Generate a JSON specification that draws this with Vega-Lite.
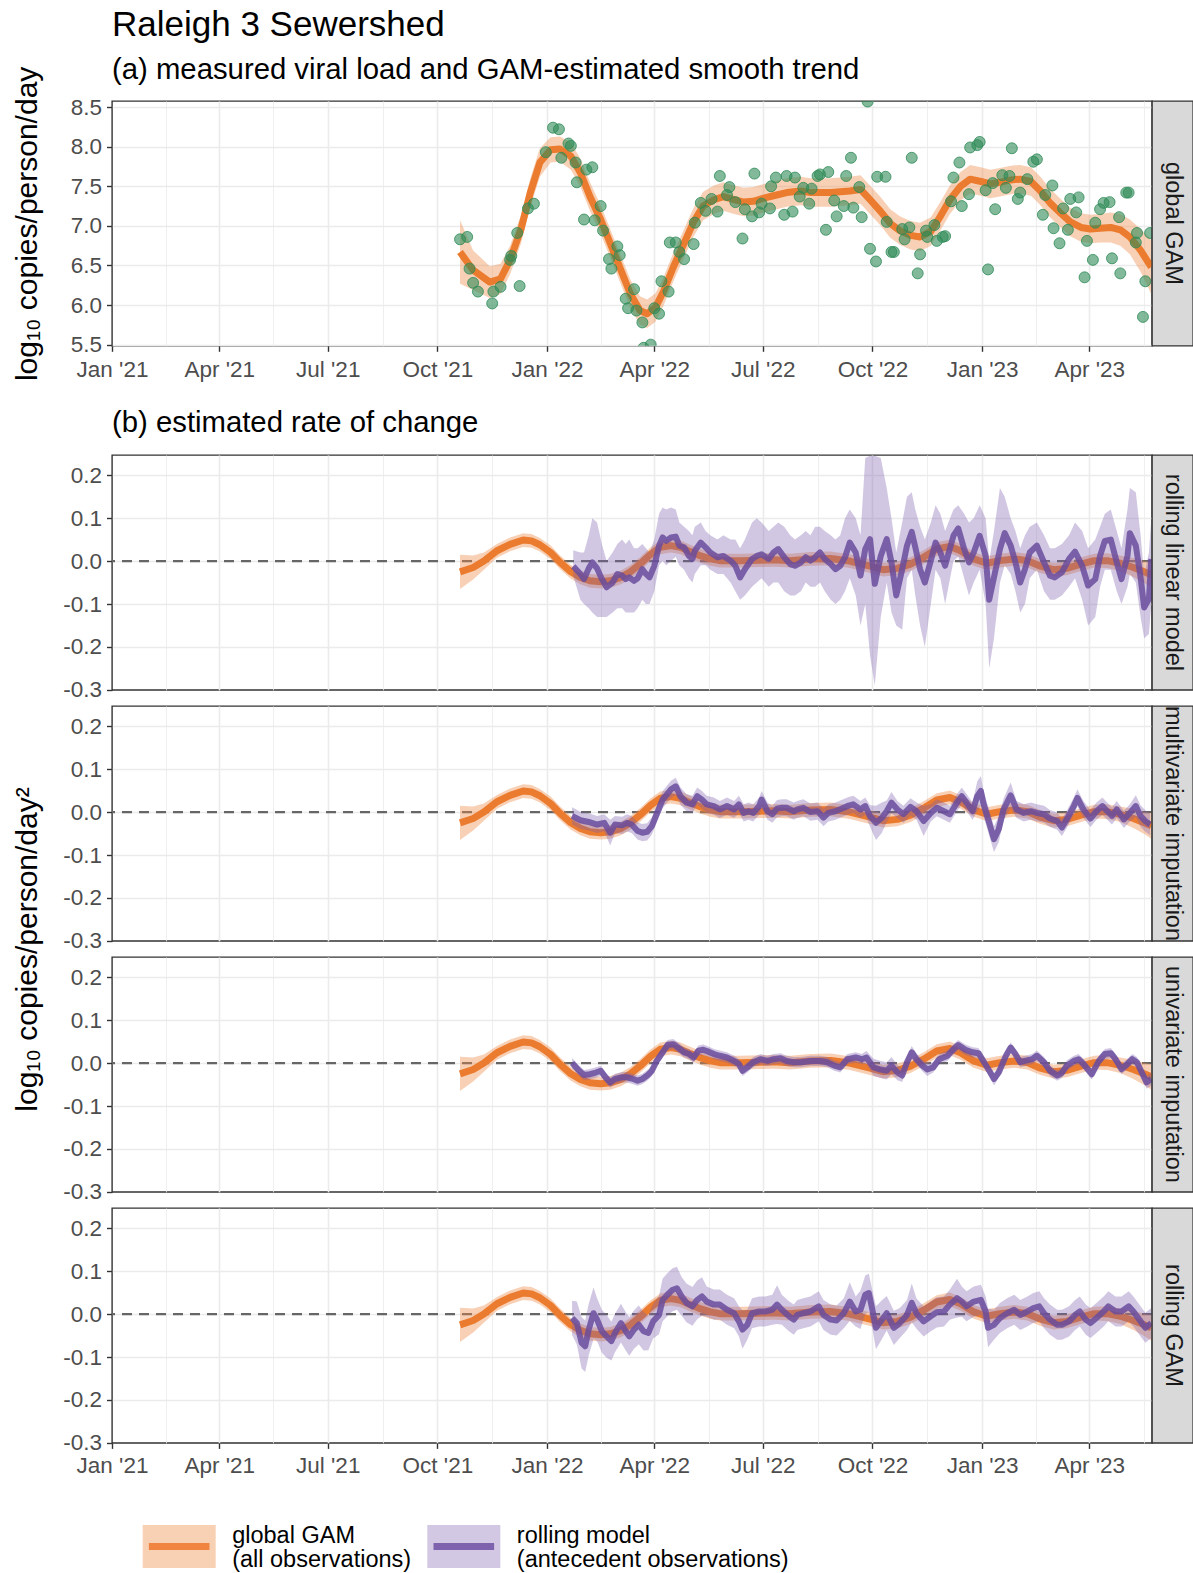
{
  "$schema": "https://vega.github.io/schema/vega-lite/v6.json",
  "background": "white",
  "padding": {"left": 11, "top": 8, "right": 0, "bottom": 5},
  "autosize": {"type": "pad"},
  "title": {"text": "Raleigh 3 Sewershed", "anchor": "start", "frame": "group", "fontSize": 35, "offset": 12},
  "config": {
    "font": "Liberation Sans",
    "title": {"font": "Liberation Sans", "fontWeight": "normal", "color": "#000000"},
    "view": {"stroke": "#333333", "strokeWidth": 1.4},
    "axis": {
      "labelFont": "Liberation Sans", "labelFontSize": 22.5, "labelColor": "#4D4D4D",
      "titleFont": "Liberation Sans", "titleFontSize": 30, "titleFontWeight": "normal", "titleColor": "#000000",
      "gridColor": "#EBEBEB", "tickColor": "#333333", "tickWidth": 1.4, "tickSize": 5.5,
      "domain": false, "labelPadding": 6.5, "labelOverlap": false, "labelFlush": false
    },
    "axisY": {"minExtent": 45, "maxExtent": 45, "titlePadding": 25, "labelPadding": 5}
  },
  "datasets": {
    "pts": [
      {"t":"2021-10-20","v":6.83},{"t":"2021-10-26","v":6.86},{"t":"2021-10-28","v":6.46},{"t":"2021-10-31","v":6.28},
      {"t":"2021-11-04","v":6.17},{"t":"2021-11-16","v":6.02},{"t":"2021-11-17","v":6.17},{"t":"2021-11-23","v":6.23},
      {"t":"2021-12-01","v":6.57},{"t":"2021-12-02","v":6.62},{"t":"2021-12-07","v":6.91},{"t":"2021-12-09","v":6.24},
      {"t":"2021-12-16","v":7.22},{"t":"2021-12-21","v":7.28},{"t":"2021-12-31","v":7.93},{"t":"2022-01-06","v":8.24},
      {"t":"2022-01-11","v":8.22},{"t":"2022-01-13","v":7.86},{"t":"2022-01-19","v":8.04},{"t":"2022-01-21","v":8.01},
      {"t":"2022-01-25","v":7.80},{"t":"2022-01-26","v":7.55},{"t":"2022-02-01","v":7.08},{"t":"2022-02-03","v":7.71},
      {"t":"2022-02-08","v":7.74},{"t":"2022-02-10","v":7.07},{"t":"2022-02-15","v":7.25},{"t":"2022-02-17","v":6.94},
      {"t":"2022-02-22","v":6.58},{"t":"2022-02-24","v":6.46},{"t":"2022-03-01","v":6.74},{"t":"2022-03-03","v":6.63},
      {"t":"2022-03-08","v":6.08},{"t":"2022-03-10","v":5.96},{"t":"2022-03-15","v":6.20},{"t":"2022-03-17","v":5.93},
      {"t":"2022-03-22","v":5.78},{"t":"2022-03-23","v":5.46},{"t":"2022-03-29","v":5.50},{"t":"2022-04-01","v":5.96},
      {"t":"2022-04-05","v":5.89},{"t":"2022-04-07","v":6.30},{"t":"2022-04-13","v":6.17},{"t":"2022-04-14","v":6.79},
      {"t":"2022-04-19","v":6.79},{"t":"2022-04-22","v":6.67},{"t":"2022-04-26","v":6.58},{"t":"2022-05-04","v":6.77},
      {"t":"2022-05-05","v":7.04},{"t":"2022-05-10","v":7.29},{"t":"2022-05-14","v":7.19},{"t":"2022-05-19","v":7.34},
      {"t":"2022-05-24","v":7.18},{"t":"2022-05-26","v":7.63},{"t":"2022-06-01","v":7.39},{"t":"2022-06-03","v":7.49},
      {"t":"2022-06-08","v":7.30},{"t":"2022-06-14","v":6.84},{"t":"2022-06-16","v":7.21},{"t":"2022-06-22","v":7.12},
      {"t":"2022-06-24","v":7.66},{"t":"2022-06-28","v":7.17},{"t":"2022-06-30","v":7.28},{"t":"2022-07-07","v":7.22},
      {"t":"2022-07-08","v":7.50},{"t":"2022-07-12","v":7.61},{"t":"2022-07-19","v":7.14},{"t":"2022-07-21","v":7.63},
      {"t":"2022-07-26","v":7.18},{"t":"2022-07-28","v":7.61},{"t":"2022-08-01","v":7.37},{"t":"2022-08-04","v":7.48},
      {"t":"2022-08-09","v":7.28},{"t":"2022-08-11","v":7.47},{"t":"2022-08-16","v":7.63},{"t":"2022-08-18","v":7.65},
      {"t":"2022-08-23","v":6.95},{"t":"2022-08-25","v":7.68},{"t":"2022-08-30","v":7.32},{"t":"2022-09-01","v":7.12},
      {"t":"2022-09-07","v":7.25},{"t":"2022-09-09","v":7.63},{"t":"2022-09-13","v":7.86},{"t":"2022-09-15","v":7.23},
      {"t":"2022-09-20","v":7.49},{"t":"2022-09-22","v":7.11},{"t":"2022-09-27","v":8.57},{"t":"2022-09-29","v":6.71},
      {"t":"2022-10-04","v":6.55},{"t":"2022-10-05","v":7.62},{"t":"2022-10-12","v":7.62},{"t":"2022-10-13","v":7.05},
      {"t":"2022-10-17","v":6.67},{"t":"2022-10-19","v":6.67},{"t":"2022-10-26","v":6.96},{"t":"2022-10-28","v":6.83},
      {"t":"2022-11-01","v":6.98},{"t":"2022-11-03","v":7.86},{"t":"2022-11-08","v":6.40},{"t":"2022-11-10","v":6.64},
      {"t":"2022-11-15","v":6.94},{"t":"2022-11-16","v":6.86},{"t":"2022-11-22","v":7.01},{"t":"2022-11-24","v":6.81},
      {"t":"2022-11-29","v":6.86},{"t":"2022-12-01","v":6.87},{"t":"2022-12-06","v":7.31},{"t":"2022-12-08","v":7.61},
      {"t":"2022-12-13","v":7.80},{"t":"2022-12-15","v":7.25},{"t":"2022-12-21","v":7.40},{"t":"2022-12-22","v":7.99},
      {"t":"2022-12-28","v":8.02},{"t":"2022-12-30","v":8.06},{"t":"2023-01-04","v":7.45},{"t":"2023-01-06","v":6.45},
      {"t":"2023-01-10","v":7.54},{"t":"2023-01-12","v":7.21},{"t":"2023-01-18","v":7.64},{"t":"2023-01-21","v":7.48},
      {"t":"2023-01-24","v":7.63},{"t":"2023-01-26","v":7.98},{"t":"2023-01-31","v":7.34},{"t":"2023-02-02","v":7.42},
      {"t":"2023-02-08","v":7.59},{"t":"2023-02-13","v":7.81},{"t":"2023-02-16","v":7.84},{"t":"2023-02-21","v":7.14},
      {"t":"2023-02-23","v":7.39},{"t":"2023-03-01","v":7.51},{"t":"2023-03-02","v":6.97},{"t":"2023-03-07","v":6.78},
      {"t":"2023-03-10","v":7.22},{"t":"2023-03-14","v":6.95},{"t":"2023-03-16","v":7.34},{"t":"2023-03-21","v":7.17},
      {"t":"2023-03-23","v":7.36},{"t":"2023-03-28","v":6.35},{"t":"2023-03-30","v":6.81},{"t":"2023-04-04","v":6.57},
      {"t":"2023-04-06","v":7.04},{"t":"2023-04-10","v":7.21},{"t":"2023-04-13","v":7.29},{"t":"2023-04-18","v":7.30},
      {"t":"2023-04-20","v":6.59},{"t":"2023-04-26","v":7.11},{"t":"2023-04-27","v":6.40},{"t":"2023-05-02","v":7.42},
      {"t":"2023-05-04","v":7.42},{"t":"2023-05-10","v":6.79},{"t":"2023-05-11","v":6.91},{"t":"2023-05-16","v":5.85},
      {"t":"2023-05-18","v":6.30},{"t":"2023-05-22","v":6.91}
    ],
    "gam": [
      {"t":"2021-10-20","fit":6.67,"lo":6.27,"hi":7.07},{"t":"2021-10-31","fit":6.44,"lo":6.19,"hi":6.69},
      {"t":"2021-11-14","fit":6.29,"lo":6.09,"hi":6.49},{"t":"2021-11-23","fit":6.33,"lo":6.14,"hi":6.52},
      {"t":"2021-12-01","fit":6.57,"lo":6.39,"hi":6.75},{"t":"2021-12-10","fit":6.95,"lo":6.77,"hi":7.13},
      {"t":"2021-12-18","fit":7.42,"lo":7.24,"hi":7.60},{"t":"2021-12-26","fit":7.80,"lo":7.62,"hi":7.98},
      {"t":"2022-01-04","fit":7.96,"lo":7.80,"hi":8.12},{"t":"2022-01-12","fit":7.97,"lo":7.81,"hi":8.13},
      {"t":"2022-01-21","fit":7.88,"lo":7.71,"hi":8.05},{"t":"2022-01-29","fit":7.67,"lo":7.49,"hi":7.85},
      {"t":"2022-02-06","fit":7.37,"lo":7.19,"hi":7.55},{"t":"2022-02-15","fit":7.08,"lo":6.90,"hi":7.26},
      {"t":"2022-02-23","fit":6.78,"lo":6.60,"hi":6.96},{"t":"2022-03-04","fit":6.44,"lo":6.26,"hi":6.62},
      {"t":"2022-03-12","fit":6.14,"lo":5.96,"hi":6.32},{"t":"2022-03-20","fit":5.93,"lo":5.75,"hi":6.11},
      {"t":"2022-03-26","fit":5.89,"lo":5.71,"hi":6.07},{"t":"2022-04-02","fit":5.97,"lo":5.79,"hi":6.15},
      {"t":"2022-04-09","fit":6.18,"lo":6.00,"hi":6.36},{"t":"2022-04-17","fit":6.48,"lo":6.30,"hi":6.66},
      {"t":"2022-04-26","fit":6.78,"lo":6.60,"hi":6.96},{"t":"2022-05-04","fit":7.05,"lo":6.87,"hi":7.23},
      {"t":"2022-05-12","fit":7.25,"lo":7.07,"hi":7.43},{"t":"2022-05-21","fit":7.33,"lo":7.15,"hi":7.51},
      {"t":"2022-05-29","fit":7.37,"lo":7.19,"hi":7.55},{"t":"2022-06-07","fit":7.33,"lo":7.15,"hi":7.51},
      {"t":"2022-06-15","fit":7.30,"lo":7.12,"hi":7.48},{"t":"2022-06-23","fit":7.31,"lo":7.13,"hi":7.49},
      {"t":"2022-07-02","fit":7.35,"lo":7.17,"hi":7.53},{"t":"2022-07-10","fit":7.38,"lo":7.20,"hi":7.56},
      {"t":"2022-07-21","fit":7.42,"lo":7.24,"hi":7.60},{"t":"2022-08-02","fit":7.44,"lo":7.26,"hi":7.62},
      {"t":"2022-08-10","fit":7.42,"lo":7.24,"hi":7.60},{"t":"2022-08-27","fit":7.42,"lo":7.24,"hi":7.60},
      {"t":"2022-09-12","fit":7.44,"lo":7.26,"hi":7.62},{"t":"2022-09-21","fit":7.46,"lo":7.28,"hi":7.64},
      {"t":"2022-09-29","fit":7.33,"lo":7.15,"hi":7.51},{"t":"2022-10-08","fit":7.18,"lo":7.00,"hi":7.36},
      {"t":"2022-10-16","fit":7.03,"lo":6.85,"hi":7.21},{"t":"2022-10-24","fit":6.94,"lo":6.76,"hi":7.12},
      {"t":"2022-11-02","fit":6.88,"lo":6.70,"hi":7.06},{"t":"2022-11-10","fit":6.86,"lo":6.68,"hi":7.04},
      {"t":"2022-11-19","fit":6.93,"lo":6.75,"hi":7.11},{"t":"2022-11-27","fit":7.12,"lo":6.94,"hi":7.30},
      {"t":"2022-12-05","fit":7.33,"lo":7.15,"hi":7.51},{"t":"2022-12-14","fit":7.50,"lo":7.32,"hi":7.68},
      {"t":"2022-12-22","fit":7.59,"lo":7.41,"hi":7.77},{"t":"2022-12-31","fit":7.56,"lo":7.38,"hi":7.74},
      {"t":"2023-01-08","fit":7.53,"lo":7.35,"hi":7.71},{"t":"2023-01-16","fit":7.55,"lo":7.37,"hi":7.73},
      {"t":"2023-01-25","fit":7.58,"lo":7.40,"hi":7.76},{"t":"2023-02-02","fit":7.59,"lo":7.41,"hi":7.77},
      {"t":"2023-02-11","fit":7.56,"lo":7.38,"hi":7.74},{"t":"2023-02-19","fit":7.44,"lo":7.26,"hi":7.62},
      {"t":"2023-02-27","fit":7.29,"lo":7.11,"hi":7.47},{"t":"2023-03-08","fit":7.16,"lo":6.98,"hi":7.34},
      {"t":"2023-03-16","fit":7.05,"lo":6.87,"hi":7.23},{"t":"2023-03-25","fit":6.98,"lo":6.80,"hi":7.16},
      {"t":"2023-04-02","fit":6.96,"lo":6.78,"hi":7.14},{"t":"2023-04-10","fit":6.97,"lo":6.79,"hi":7.15},
      {"t":"2023-04-19","fit":6.98,"lo":6.79,"hi":7.17},{"t":"2023-04-27","fit":6.95,"lo":6.75,"hi":7.15},
      {"t":"2023-05-05","fit":6.86,"lo":6.64,"hi":7.08},{"t":"2023-05-14","fit":6.69,"lo":6.42,"hi":6.96},
      {"t":"2023-05-23","fit":6.48,"lo":6.14,"hi":6.82}
    ],
    "deriv": [
      {"t":"2021-10-20","v":-0.025,"lo":-0.065,"hi":0.015},{"t":"2021-10-31","v":-0.015,"lo":-0.043,"hi":0.013},
      {"t":"2021-11-09","v":0.000,"lo":-0.020,"hi":0.020},{"t":"2021-11-20","v":0.024,"lo":0.008,"hi":0.040},
      {"t":"2021-12-01","v":0.039,"lo":0.023,"hi":0.055},{"t":"2021-12-12","v":0.049,"lo":0.033,"hi":0.065},
      {"t":"2021-12-19","v":0.047,"lo":0.031,"hi":0.063},{"t":"2021-12-26","v":0.038,"lo":0.022,"hi":0.054},
      {"t":"2022-01-04","v":0.020,"lo":0.004,"hi":0.036},{"t":"2022-01-12","v":-0.003,"lo":-0.019,"hi":0.013},
      {"t":"2022-01-21","v":-0.025,"lo":-0.041,"hi":-0.009},{"t":"2022-01-29","v":-0.038,"lo":-0.054,"hi":-0.022},
      {"t":"2022-02-06","v":-0.046,"lo":-0.062,"hi":-0.030},{"t":"2022-02-15","v":-0.048,"lo":-0.064,"hi":-0.032},
      {"t":"2022-02-23","v":-0.046,"lo":-0.062,"hi":-0.030},{"t":"2022-03-04","v":-0.038,"lo":-0.054,"hi":-0.022},
      {"t":"2022-03-12","v":-0.025,"lo":-0.041,"hi":-0.009},{"t":"2022-03-20","v":-0.007,"lo":-0.023,"hi":0.009},
      {"t":"2022-03-29","v":0.016,"lo":0.000,"hi":0.032},{"t":"2022-04-06","v":0.032,"lo":0.016,"hi":0.048},
      {"t":"2022-04-15","v":0.036,"lo":0.020,"hi":0.052},{"t":"2022-04-23","v":0.032,"lo":0.016,"hi":0.048},
      {"t":"2022-05-01","v":0.022,"lo":0.006,"hi":0.038},{"t":"2022-05-10","v":0.012,"lo":-0.004,"hi":0.028},
      {"t":"2022-05-18","v":0.005,"lo":-0.011,"hi":0.021},{"t":"2022-05-26","v":0.001,"lo":-0.015,"hi":0.017},
      {"t":"2022-06-12","v":0.001,"lo":-0.015,"hi":0.017},{"t":"2022-06-29","v":0.002,"lo":-0.014,"hi":0.018},
      {"t":"2022-07-10","v":0.003,"lo":-0.013,"hi":0.019},{"t":"2022-07-24","v":0.001,"lo":-0.015,"hi":0.017},
      {"t":"2022-08-10","v":0.005,"lo":-0.011,"hi":0.021},{"t":"2022-08-27","v":0.006,"lo":-0.010,"hi":0.022},
      {"t":"2022-09-12","v":0.000,"lo":-0.016,"hi":0.016},{"t":"2022-09-29","v":-0.012,"lo":-0.028,"hi":0.004},
      {"t":"2022-10-10","v":-0.020,"lo":-0.036,"hi":-0.004},{"t":"2022-10-22","v":-0.017,"lo":-0.033,"hi":-0.001},
      {"t":"2022-11-02","v":-0.007,"lo":-0.023,"hi":0.009},{"t":"2022-11-13","v":0.009,"lo":-0.007,"hi":0.025},
      {"t":"2022-11-24","v":0.028,"lo":0.012,"hi":0.044},{"t":"2022-12-05","v":0.034,"lo":0.018,"hi":0.050},
      {"t":"2022-12-14","v":0.024,"lo":0.008,"hi":0.040},{"t":"2022-12-25","v":0.005,"lo":-0.011,"hi":0.021},
      {"t":"2023-01-05","v":-0.005,"lo":-0.021,"hi":0.011},{"t":"2023-01-16","v":0.001,"lo":-0.015,"hi":0.017},
      {"t":"2023-01-28","v":0.005,"lo":-0.011,"hi":0.021},{"t":"2023-02-08","v":0.001,"lo":-0.015,"hi":0.017},
      {"t":"2023-02-19","v":-0.012,"lo":-0.028,"hi":0.004},{"t":"2023-03-02","v":-0.020,"lo":-0.036,"hi":-0.004},
      {"t":"2023-03-13","v":-0.017,"lo":-0.033,"hi":-0.001},{"t":"2023-03-25","v":-0.007,"lo":-0.023,"hi":0.009},
      {"t":"2023-04-05","v":0.001,"lo":-0.015,"hi":0.017},{"t":"2023-04-16","v":0.001,"lo":-0.016,"hi":0.018},
      {"t":"2023-04-27","v":-0.005,"lo":-0.023,"hi":0.013},{"t":"2023-05-08","v":-0.015,"lo":-0.037,"hi":0.007},
      {"t":"2023-05-17","v":-0.025,"lo":-0.051,"hi":0.001},{"t":"2023-05-23","v":-0.032,"lo":-0.062,"hi":-0.002}
    ],
    "roll": [
      {"m":"lin","t":"2022-01-23","v":-0.012,"lo":-0.035,"hi":0.025},{"m":"lin","t":"2022-01-29","v":-0.030,"lo":-0.09,"hi":0.02},
      {"m":"lin","t":"2022-02-01","v":-0.042,"lo":-0.10,"hi":0.02},{"m":"lin","t":"2022-02-05","v":-0.017,"lo":-0.11,"hi":0.06},
      {"m":"lin","t":"2022-02-08","v":-0.003,"lo":-0.12,"hi":0.10},{"m":"lin","t":"2022-02-12","v":-0.017,"lo":-0.13,"hi":0.09},
      {"m":"lin","t":"2022-02-16","v":-0.042,"lo":-0.13,"hi":0.04},{"m":"lin","t":"2022-02-20","v":-0.061,"lo":-0.13,"hi":0.0},
      {"m":"lin","t":"2022-02-25","v":-0.050,"lo":-0.12,"hi":0.02},{"m":"lin","t":"2022-03-01","v":-0.030,"lo":-0.11,"hi":0.04},
      {"m":"lin","t":"2022-03-05","v":-0.034,"lo":-0.11,"hi":0.05},{"m":"lin","t":"2022-03-08","v":-0.042,"lo":-0.12,"hi":0.04},
      {"m":"lin","t":"2022-03-11","v":-0.038,"lo":-0.12,"hi":0.05},{"m":"lin","t":"2022-03-15","v":-0.046,"lo":-0.12,"hi":0.03},
      {"m":"lin","t":"2022-03-18","v":-0.040,"lo":-0.11,"hi":0.03},{"m":"lin","t":"2022-03-22","v":-0.019,"lo":-0.09,"hi":0.04},
      {"m":"lin","t":"2022-03-25","v":-0.030,"lo":-0.10,"hi":0.03},{"m":"lin","t":"2022-03-28","v":-0.038,"lo":-0.10,"hi":0.02},
      {"m":"lin","t":"2022-04-01","v":-0.011,"lo":-0.07,"hi":0.05},{"m":"lin","t":"2022-04-05","v":0.036,"lo":-0.01,"hi":0.11},
      {"m":"lin","t":"2022-04-08","v":0.055,"lo":0.0,"hi":0.125},{"m":"lin","t":"2022-04-11","v":0.047,"lo":-0.01,"hi":0.12},
      {"m":"lin","t":"2022-04-15","v":0.055,"lo":0.0,"hi":0.125},{"m":"lin","t":"2022-04-19","v":0.057,"lo":0.01,"hi":0.12},
      {"m":"lin","t":"2022-04-22","v":0.036,"lo":-0.01,"hi":0.09},{"m":"lin","t":"2022-04-26","v":0.032,"lo":-0.02,"hi":0.08},
      {"m":"lin","t":"2022-04-30","v":0.012,"lo":-0.04,"hi":0.07},{"m":"lin","t":"2022-05-03","v":0.005,"lo":-0.05,"hi":0.06},
      {"m":"lin","t":"2022-05-05","v":0.024,"lo":-0.03,"hi":0.08},{"m":"lin","t":"2022-05-10","v":0.043,"lo":-0.01,"hi":0.09},
      {"m":"lin","t":"2022-05-14","v":0.032,"lo":-0.01,"hi":0.07},{"m":"lin","t":"2022-05-18","v":0.020,"lo":-0.02,"hi":0.06},
      {"m":"lin","t":"2022-05-24","v":0.009,"lo":-0.03,"hi":0.05},{"m":"lin","t":"2022-05-29","v":0.012,"lo":-0.03,"hi":0.06},
      {"m":"lin","t":"2022-06-04","v":0.001,"lo":-0.05,"hi":0.05},{"m":"lin","t":"2022-06-08","v":-0.011,"lo":-0.07,"hi":0.05},
      {"m":"lin","t":"2022-06-12","v":-0.038,"lo":-0.09,"hi":0.03},{"m":"lin","t":"2022-06-16","v":-0.019,"lo":-0.08,"hi":0.05},
      {"m":"lin","t":"2022-06-22","v":0.005,"lo":-0.06,"hi":0.09},{"m":"lin","t":"2022-06-26","v":0.012,"lo":-0.05,"hi":0.10},
      {"m":"lin","t":"2022-06-30","v":0.016,"lo":-0.04,"hi":0.09},{"m":"lin","t":"2022-07-06","v":0.005,"lo":-0.06,"hi":0.07},
      {"m":"lin","t":"2022-07-10","v":0.020,"lo":-0.05,"hi":0.08},{"m":"lin","t":"2022-07-14","v":0.028,"lo":-0.05,"hi":0.09},
      {"m":"lin","t":"2022-07-19","v":0.009,"lo":-0.07,"hi":0.08},{"m":"lin","t":"2022-07-24","v":-0.007,"lo":-0.08,"hi":0.06},
      {"m":"lin","t":"2022-07-28","v":-0.011,"lo":-0.08,"hi":0.05},{"m":"lin","t":"2022-08-02","v":-0.003,"lo":-0.07,"hi":0.06},
      {"m":"lin","t":"2022-08-06","v":0.009,"lo":-0.05,"hi":0.07},{"m":"lin","t":"2022-08-10","v":0.001,"lo":-0.06,"hi":0.06},
      {"m":"lin","t":"2022-08-14","v":0.009,"lo":-0.06,"hi":0.08},{"m":"lin","t":"2022-08-18","v":0.020,"lo":-0.05,"hi":0.08},
      {"m":"lin","t":"2022-08-22","v":0.005,"lo":-0.07,"hi":0.07},{"m":"lin","t":"2022-08-27","v":-0.007,"lo":-0.09,"hi":0.06},
      {"m":"lin","t":"2022-08-31","v":-0.019,"lo":-0.10,"hi":0.05},{"m":"lin","t":"2022-09-04","v":-0.011,"lo":-0.09,"hi":0.06},
      {"m":"lin","t":"2022-09-08","v":0.009,"lo":-0.07,"hi":0.10},{"m":"lin","t":"2022-09-12","v":0.043,"lo":-0.04,"hi":0.12},
      {"m":"lin","t":"2022-09-17","v":0.020,"lo":-0.08,"hi":0.10},{"m":"lin","t":"2022-09-21","v":-0.034,"lo":-0.15,"hi":0.06},
      {"m":"lin","t":"2022-09-25","v":0.028,"lo":-0.10,"hi":0.24},{"m":"lin","t":"2022-09-29","v":0.051,"lo":-0.22,"hi":0.245},
      {"m":"lin","t":"2022-10-03","v":-0.053,"lo":-0.29,"hi":0.245},{"m":"lin","t":"2022-10-08","v":0.012,"lo":-0.13,"hi":0.24},
      {"m":"lin","t":"2022-10-13","v":0.051,"lo":-0.05,"hi":0.17},{"m":"lin","t":"2022-10-17","v":-0.003,"lo":-0.12,"hi":0.10},
      {"m":"lin","t":"2022-10-21","v":-0.080,"lo":-0.15,"hi":0.02},{"m":"lin","t":"2022-10-26","v":-0.019,"lo":-0.16,"hi":0.09},
      {"m":"lin","t":"2022-10-30","v":0.036,"lo":-0.04,"hi":0.15},{"m":"lin","t":"2022-11-03","v":0.068,"lo":-0.02,"hi":0.16},
      {"m":"lin","t":"2022-11-06","v":0.032,"lo":-0.08,"hi":0.12},{"m":"lin","t":"2022-11-10","v":-0.019,"lo":-0.15,"hi":0.08},
      {"m":"lin","t":"2022-11-14","v":-0.050,"lo":-0.20,"hi":0.05},{"m":"lin","t":"2022-11-19","v":0.001,"lo":-0.10,"hi":0.09},
      {"m":"lin","t":"2022-11-23","v":0.043,"lo":-0.02,"hi":0.13},{"m":"lin","t":"2022-11-27","v":0.020,"lo":-0.04,"hi":0.11},
      {"m":"lin","t":"2022-12-01","v":-0.011,"lo":-0.10,"hi":0.07},{"m":"lin","t":"2022-12-08","v":0.059,"lo":0.0,"hi":0.12},
      {"m":"lin","t":"2022-12-12","v":0.076,"lo":0.01,"hi":0.13},{"m":"lin","t":"2022-12-17","v":0.028,"lo":-0.04,"hi":0.11},
      {"m":"lin","t":"2022-12-21","v":-0.003,"lo":-0.08,"hi":0.09},{"m":"lin","t":"2022-12-25","v":0.020,"lo":-0.05,"hi":0.10},
      {"m":"lin","t":"2022-12-30","v":0.059,"lo":-0.02,"hi":0.13},{"m":"lin","t":"2023-01-04","v":0.012,"lo":-0.10,"hi":0.10},
      {"m":"lin","t":"2023-01-07","v":-0.090,"lo":-0.25,"hi":0.0},{"m":"lin","t":"2023-01-11","v":-0.038,"lo":-0.18,"hi":0.07},
      {"m":"lin","t":"2023-01-16","v":0.028,"lo":-0.05,"hi":0.17},{"m":"lin","t":"2023-01-20","v":0.065,"lo":-0.01,"hi":0.15},
      {"m":"lin","t":"2023-01-25","v":0.036,"lo":-0.03,"hi":0.10},{"m":"lin","t":"2023-01-29","v":-0.003,"lo":-0.07,"hi":0.07},
      {"m":"lin","t":"2023-02-02","v":-0.050,"lo":-0.12,"hi":0.03},{"m":"lin","t":"2023-02-06","v":-0.019,"lo":-0.10,"hi":0.06},
      {"m":"lin","t":"2023-02-10","v":0.020,"lo":-0.04,"hi":0.08},{"m":"lin","t":"2023-02-16","v":0.036,"lo":-0.02,"hi":0.09},
      {"m":"lin","t":"2023-02-22","v":-0.003,"lo":-0.07,"hi":0.06},{"m":"lin","t":"2023-02-27","v":-0.034,"lo":-0.09,"hi":0.03},
      {"m":"lin","t":"2023-03-03","v":-0.038,"lo":-0.09,"hi":0.03},{"m":"lin","t":"2023-03-09","v":-0.026,"lo":-0.08,"hi":0.04},
      {"m":"lin","t":"2023-03-15","v":0.005,"lo":-0.06,"hi":0.06},{"m":"lin","t":"2023-03-20","v":0.022,"lo":-0.04,"hi":0.09},
      {"m":"lin","t":"2023-03-26","v":-0.011,"lo":-0.09,"hi":0.07},{"m":"lin","t":"2023-03-31","v":-0.057,"lo":-0.15,"hi":0.03},
      {"m":"lin","t":"2023-04-06","v":-0.042,"lo":-0.13,"hi":0.05},{"m":"lin","t":"2023-04-10","v":0.012,"lo":-0.06,"hi":0.08},
      {"m":"lin","t":"2023-04-14","v":0.047,"lo":-0.02,"hi":0.11},{"m":"lin","t":"2023-04-19","v":0.050,"lo":-0.02,"hi":0.12},
      {"m":"lin","t":"2023-04-24","v":-0.003,"lo":-0.07,"hi":0.07},{"m":"lin","t":"2023-04-28","v":-0.042,"lo":-0.10,"hi":0.03},
      {"m":"lin","t":"2023-05-03","v":0.012,"lo":-0.06,"hi":0.12},{"m":"lin","t":"2023-05-05","v":0.065,"lo":-0.03,"hi":0.17},
      {"m":"lin","t":"2023-05-10","v":0.036,"lo":-0.05,"hi":0.16},{"m":"lin","t":"2023-05-14","v":-0.038,"lo":-0.13,"hi":0.06},
      {"m":"lin","t":"2023-05-17","v":-0.108,"lo":-0.18,"hi":-0.03},{"m":"lin","t":"2023-05-21","v":-0.088,"lo":-0.17,"hi":0.02},
      {"m":"lin","t":"2023-05-23","v":0.005,"lo":-0.10,"hi":0.10},

      {"m":"mul","t":"2022-01-22","v":-0.009,"lo":-0.029,"hi":0.011},{"m":"mul","t":"2022-01-29","v":-0.019,"lo":-0.039,"hi":0.001},
      {"m":"mul","t":"2022-02-05","v":-0.023,"lo":-0.043,"hi":-0.003},{"m":"mul","t":"2022-02-12","v":-0.029,"lo":-0.049,"hi":-0.009},
      {"m":"mul","t":"2022-02-18","v":-0.025,"lo":-0.045,"hi":-0.005},{"m":"mul","t":"2022-02-23","v":-0.048,"lo":-0.078,"hi":-0.018},
      {"m":"mul","t":"2022-02-27","v":-0.029,"lo":-0.049,"hi":-0.009},{"m":"mul","t":"2022-03-05","v":-0.031,"lo":-0.051,"hi":-0.011},
      {"m":"mul","t":"2022-03-09","v":-0.025,"lo":-0.045,"hi":-0.005},{"m":"mul","t":"2022-03-13","v":-0.029,"lo":-0.049,"hi":-0.009},
      {"m":"mul","t":"2022-03-18","v":-0.044,"lo":-0.064,"hi":-0.024},{"m":"mul","t":"2022-03-22","v":-0.048,"lo":-0.068,"hi":-0.028},
      {"m":"mul","t":"2022-03-26","v":-0.046,"lo":-0.066,"hi":-0.026},{"m":"mul","t":"2022-03-30","v":-0.032,"lo":-0.052,"hi":-0.012},
      {"m":"mul","t":"2022-04-03","v":-0.005,"lo":-0.025,"hi":0.015},{"m":"mul","t":"2022-04-08","v":0.029,"lo":0.009,"hi":0.049},
      {"m":"mul","t":"2022-04-15","v":0.053,"lo":0.033,"hi":0.073},{"m":"mul","t":"2022-04-19","v":0.060,"lo":0.040,"hi":0.080},
      {"m":"mul","t":"2022-04-23","v":0.037,"lo":0.017,"hi":0.057},{"m":"mul","t":"2022-04-28","v":0.022,"lo":0.002,"hi":0.042},
      {"m":"mul","t":"2022-05-03","v":0.018,"lo":-0.002,"hi":0.038},{"m":"mul","t":"2022-05-07","v":0.037,"lo":0.017,"hi":0.057},
      {"m":"mul","t":"2022-05-11","v":0.029,"lo":0.009,"hi":0.049},{"m":"mul","t":"2022-05-15","v":0.018,"lo":-0.002,"hi":0.038},
      {"m":"mul","t":"2022-05-21","v":0.014,"lo":-0.006,"hi":0.034},{"m":"mul","t":"2022-05-26","v":0.006,"lo":-0.014,"hi":0.026},
      {"m":"mul","t":"2022-06-01","v":0.014,"lo":-0.006,"hi":0.034},{"m":"mul","t":"2022-06-07","v":0.006,"lo":-0.014,"hi":0.026},
      {"m":"mul","t":"2022-06-11","v":0.018,"lo":-0.002,"hi":0.038},{"m":"mul","t":"2022-06-15","v":-0.002,"lo":-0.022,"hi":0.018},
      {"m":"mul","t":"2022-06-19","v":0.002,"lo":-0.018,"hi":0.022},{"m":"mul","t":"2022-06-23","v":-0.002,"lo":-0.022,"hi":0.018},
      {"m":"mul","t":"2022-06-28","v":0.014,"lo":-0.006,"hi":0.034},{"m":"mul","t":"2022-06-30","v":0.029,"lo":0.009,"hi":0.049},
      {"m":"mul","t":"2022-07-05","v":0.002,"lo":-0.018,"hi":0.022},{"m":"mul","t":"2022-07-09","v":-0.005,"lo":-0.025,"hi":0.015},
      {"m":"mul","t":"2022-07-13","v":0.008,"lo":-0.012,"hi":0.028},{"m":"mul","t":"2022-07-17","v":0.010,"lo":-0.010,"hi":0.030},
      {"m":"mul","t":"2022-07-21","v":0.010,"lo":-0.010,"hi":0.030},{"m":"mul","t":"2022-07-27","v":0.002,"lo":-0.018,"hi":0.022},
      {"m":"mul","t":"2022-07-30","v":0.006,"lo":-0.014,"hi":0.026},{"m":"mul","t":"2022-08-04","v":0.010,"lo":-0.010,"hi":0.030},
      {"m":"mul","t":"2022-08-10","v":0.000,"lo":-0.020,"hi":0.020},{"m":"mul","t":"2022-08-16","v":0.002,"lo":-0.018,"hi":0.022},
      {"m":"mul","t":"2022-08-21","v":-0.013,"lo":-0.033,"hi":0.007},{"m":"mul","t":"2022-08-25","v":-0.002,"lo":-0.022,"hi":0.018},
      {"m":"mul","t":"2022-08-31","v":0.002,"lo":-0.018,"hi":0.022},{"m":"mul","t":"2022-09-05","v":0.008,"lo":-0.012,"hi":0.028},
      {"m":"mul","t":"2022-09-11","v":0.015,"lo":-0.005,"hi":0.035},{"m":"mul","t":"2022-09-15","v":0.018,"lo":-0.002,"hi":0.038},
      {"m":"mul","t":"2022-09-21","v":0.006,"lo":-0.014,"hi":0.026},{"m":"mul","t":"2022-09-25","v":0.014,"lo":-0.006,"hi":0.034},
      {"m":"mul","t":"2022-09-29","v":-0.009,"lo":-0.034,"hi":0.016},{"m":"mul","t":"2022-10-04","v":-0.025,"lo":-0.065,"hi":0.015},
      {"m":"mul","t":"2022-10-09","v":-0.013,"lo":-0.048,"hi":0.022},{"m":"mul","t":"2022-10-13","v":0.002,"lo":-0.023,"hi":0.027},
      {"m":"mul","t":"2022-10-17","v":0.022,"lo":-0.003,"hi":0.047},{"m":"mul","t":"2022-10-22","v":0.006,"lo":-0.014,"hi":0.026},
      {"m":"mul","t":"2022-10-27","v":-0.005,"lo":-0.025,"hi":0.015},{"m":"mul","t":"2022-11-02","v":0.012,"lo":-0.008,"hi":0.032},
      {"m":"mul","t":"2022-11-07","v":0.002,"lo":-0.018,"hi":0.022},{"m":"mul","t":"2022-11-13","v":-0.021,"lo":-0.056,"hi":0.014},
      {"m":"mul","t":"2022-11-19","v":-0.002,"lo":-0.022,"hi":0.018},{"m":"mul","t":"2022-11-24","v":0.010,"lo":-0.010,"hi":0.030},
      {"m":"mul","t":"2022-11-30","v":0.002,"lo":-0.018,"hi":0.022},{"m":"mul","t":"2022-12-05","v":-0.005,"lo":-0.025,"hi":0.015},
      {"m":"mul","t":"2022-12-11","v":0.022,"lo":0.002,"hi":0.042},{"m":"mul","t":"2022-12-15","v":0.037,"lo":0.017,"hi":0.057},
      {"m":"mul","t":"2022-12-19","v":0.022,"lo":0.002,"hi":0.042},{"m":"mul","t":"2022-12-24","v":0.002,"lo":-0.018,"hi":0.022},
      {"m":"mul","t":"2022-12-28","v":0.037,"lo":0.002,"hi":0.072},{"m":"mul","t":"2022-12-31","v":0.049,"lo":0.014,"hi":0.084},
      {"m":"mul","t":"2023-01-02","v":0.022,"lo":-0.008,"hi":0.052},{"m":"mul","t":"2023-01-07","v":-0.025,"lo":-0.055,"hi":0.005},
      {"m":"mul","t":"2023-01-11","v":-0.063,"lo":-0.093,"hi":-0.033},{"m":"mul","t":"2023-01-15","v":-0.040,"lo":-0.070,"hi":-0.010},
      {"m":"mul","t":"2023-01-19","v":0.006,"lo":-0.019,"hi":0.031},{"m":"mul","t":"2023-01-25","v":0.039,"lo":0.009,"hi":0.069},
      {"m":"mul","t":"2023-01-30","v":0.006,"lo":-0.014,"hi":0.026},{"m":"mul","t":"2023-02-05","v":-0.002,"lo":-0.022,"hi":0.018},
      {"m":"mul","t":"2023-02-11","v":0.002,"lo":-0.018,"hi":0.022},{"m":"mul","t":"2023-02-16","v":-0.002,"lo":-0.022,"hi":0.018},
      {"m":"mul","t":"2023-02-22","v":-0.005,"lo":-0.025,"hi":0.015},{"m":"mul","t":"2023-02-27","v":-0.015,"lo":-0.035,"hi":0.005},
      {"m":"mul","t":"2023-03-05","v":-0.021,"lo":-0.041,"hi":-0.001},{"m":"mul","t":"2023-03-09","v":-0.036,"lo":-0.056,"hi":-0.016},
      {"m":"mul","t":"2023-03-13","v":-0.017,"lo":-0.037,"hi":0.003},{"m":"mul","t":"2023-03-19","v":0.014,"lo":-0.006,"hi":0.034},
      {"m":"mul","t":"2023-03-22","v":0.033,"lo":0.013,"hi":0.053},{"m":"mul","t":"2023-03-27","v":0.006,"lo":-0.014,"hi":0.026},
      {"m":"mul","t":"2023-04-02","v":-0.015,"lo":-0.035,"hi":0.005},{"m":"mul","t":"2023-04-07","v":0.002,"lo":-0.018,"hi":0.022},
      {"m":"mul","t":"2023-04-12","v":0.014,"lo":-0.006,"hi":0.034},{"m":"mul","t":"2023-04-16","v":0.002,"lo":-0.018,"hi":0.022},
      {"m":"mul","t":"2023-04-20","v":-0.009,"lo":-0.029,"hi":0.011},{"m":"mul","t":"2023-04-24","v":0.006,"lo":-0.014,"hi":0.026},
      {"m":"mul","t":"2023-04-30","v":-0.017,"lo":-0.037,"hi":0.003},{"m":"mul","t":"2023-05-05","v":-0.002,"lo":-0.022,"hi":0.018},
      {"m":"mul","t":"2023-05-10","v":0.014,"lo":-0.011,"hi":0.039},{"m":"mul","t":"2023-05-14","v":-0.009,"lo":-0.034,"hi":0.016},
      {"m":"mul","t":"2023-05-18","v":-0.021,"lo":-0.046,"hi":0.004},{"m":"mul","t":"2023-05-22","v":-0.029,"lo":-0.054,"hi":-0.004},

      {"m":"uni","t":"2022-01-22","v":0.000,"lo":-0.012,"hi":0.012},{"m":"uni","t":"2022-01-28","v":-0.018,"lo":-0.030,"hi":-0.006},
      {"m":"uni","t":"2022-02-01","v":-0.028,"lo":-0.040,"hi":-0.016},{"m":"uni","t":"2022-02-06","v":-0.026,"lo":-0.038,"hi":-0.014},
      {"m":"uni","t":"2022-02-11","v":-0.022,"lo":-0.034,"hi":-0.010},{"m":"uni","t":"2022-02-15","v":-0.018,"lo":-0.030,"hi":-0.006},
      {"m":"uni","t":"2022-02-19","v":-0.033,"lo":-0.045,"hi":-0.021},{"m":"uni","t":"2022-02-23","v":-0.045,"lo":-0.057,"hi":-0.033},
      {"m":"uni","t":"2022-02-27","v":-0.037,"lo":-0.049,"hi":-0.025},{"m":"uni","t":"2022-03-05","v":-0.033,"lo":-0.045,"hi":-0.021},
      {"m":"uni","t":"2022-03-09","v":-0.033,"lo":-0.045,"hi":-0.021},{"m":"uni","t":"2022-03-13","v":-0.036,"lo":-0.048,"hi":-0.024},
      {"m":"uni","t":"2022-03-18","v":-0.041,"lo":-0.053,"hi":-0.029},{"m":"uni","t":"2022-03-22","v":-0.037,"lo":-0.049,"hi":-0.025},
      {"m":"uni","t":"2022-03-26","v":-0.029,"lo":-0.041,"hi":-0.017},{"m":"uni","t":"2022-03-30","v":-0.018,"lo":-0.030,"hi":-0.006},
      {"m":"uni","t":"2022-04-03","v":0.005,"lo":-0.007,"hi":0.017},{"m":"uni","t":"2022-04-08","v":0.025,"lo":0.013,"hi":0.037},
      {"m":"uni","t":"2022-04-12","v":0.042,"lo":0.030,"hi":0.054},{"m":"uni","t":"2022-04-17","v":0.044,"lo":0.032,"hi":0.056},
      {"m":"uni","t":"2022-04-21","v":0.036,"lo":0.024,"hi":0.048},{"m":"uni","t":"2022-04-26","v":0.025,"lo":0.013,"hi":0.037},
      {"m":"uni","t":"2022-04-30","v":0.021,"lo":0.009,"hi":0.033},{"m":"uni","t":"2022-05-04","v":0.013,"lo":0.001,"hi":0.025},
      {"m":"uni","t":"2022-05-08","v":0.029,"lo":0.017,"hi":0.041},{"m":"uni","t":"2022-05-12","v":0.031,"lo":0.019,"hi":0.043},
      {"m":"uni","t":"2022-05-17","v":0.026,"lo":0.014,"hi":0.038},{"m":"uni","t":"2022-05-21","v":0.021,"lo":0.009,"hi":0.033},
      {"m":"uni","t":"2022-05-26","v":0.017,"lo":0.005,"hi":0.029},{"m":"uni","t":"2022-06-01","v":0.013,"lo":0.001,"hi":0.025},
      {"m":"uni","t":"2022-06-07","v":0.005,"lo":-0.007,"hi":0.017},{"m":"uni","t":"2022-06-11","v":-0.002,"lo":-0.014,"hi":0.010},
      {"m":"uni","t":"2022-06-14","v":-0.018,"lo":-0.030,"hi":-0.006},{"m":"uni","t":"2022-06-18","v":-0.010,"lo":-0.022,"hi":0.002},
      {"m":"uni","t":"2022-06-23","v":0.002,"lo":-0.010,"hi":0.014},{"m":"uni","t":"2022-06-29","v":0.009,"lo":-0.003,"hi":0.021},
      {"m":"uni","t":"2022-07-05","v":0.005,"lo":-0.007,"hi":0.017},{"m":"uni","t":"2022-07-10","v":0.009,"lo":-0.003,"hi":0.021},
      {"m":"uni","t":"2022-07-16","v":0.011,"lo":-0.001,"hi":0.023},{"m":"uni","t":"2022-07-21","v":0.005,"lo":-0.007,"hi":0.017},
      {"m":"uni","t":"2022-07-27","v":0.002,"lo":-0.010,"hi":0.014},{"m":"uni","t":"2022-08-02","v":0.002,"lo":-0.010,"hi":0.014},
      {"m":"uni","t":"2022-08-10","v":0.005,"lo":-0.007,"hi":0.017},{"m":"uni","t":"2022-08-18","v":0.005,"lo":-0.007,"hi":0.017},
      {"m":"uni","t":"2022-08-24","v":0.002,"lo":-0.010,"hi":0.014},{"m":"uni","t":"2022-08-30","v":-0.006,"lo":-0.018,"hi":0.006},
      {"m":"uni","t":"2022-09-04","v":-0.010,"lo":-0.022,"hi":0.002},{"m":"uni","t":"2022-09-10","v":0.009,"lo":-0.003,"hi":0.021},
      {"m":"uni","t":"2022-09-17","v":0.013,"lo":0.001,"hi":0.025},{"m":"uni","t":"2022-09-22","v":0.009,"lo":-0.003,"hi":0.021},
      {"m":"uni","t":"2022-09-26","v":0.013,"lo":-0.002,"hi":0.028},{"m":"uni","t":"2022-10-02","v":-0.010,"lo":-0.030,"hi":0.010},
      {"m":"uni","t":"2022-10-08","v":-0.015,"lo":-0.035,"hi":0.005},{"m":"uni","t":"2022-10-13","v":-0.018,"lo":-0.038,"hi":0.002},
      {"m":"uni","t":"2022-10-17","v":-0.006,"lo":-0.026,"hi":0.014},{"m":"uni","t":"2022-10-22","v":-0.022,"lo":-0.040,"hi":-0.004},
      {"m":"uni","t":"2022-10-26","v":-0.029,"lo":-0.044,"hi":-0.014},{"m":"uni","t":"2022-10-30","v":0.002,"lo":-0.012,"hi":0.016},
      {"m":"uni","t":"2022-11-03","v":0.025,"lo":0.010,"hi":0.040},{"m":"uni","t":"2022-11-07","v":0.009,"lo":-0.004,"hi":0.022},
      {"m":"uni","t":"2022-11-12","v":-0.006,"lo":-0.019,"hi":0.007},{"m":"uni","t":"2022-11-16","v":-0.015,"lo":-0.030,"hi":0.000},
      {"m":"uni","t":"2022-11-21","v":-0.010,"lo":-0.022,"hi":0.002},{"m":"uni","t":"2022-11-26","v":0.009,"lo":-0.003,"hi":0.021},
      {"m":"uni","t":"2022-12-03","v":0.017,"lo":0.005,"hi":0.029},{"m":"uni","t":"2022-12-08","v":0.032,"lo":0.020,"hi":0.044},
      {"m":"uni","t":"2022-12-12","v":0.042,"lo":0.030,"hi":0.054},{"m":"uni","t":"2022-12-18","v":0.031,"lo":0.019,"hi":0.043},
      {"m":"uni","t":"2022-12-24","v":0.025,"lo":0.013,"hi":0.037},{"m":"uni","t":"2022-12-29","v":0.023,"lo":0.011,"hi":0.035},
      {"m":"uni","t":"2023-01-02","v":0.005,"lo":-0.007,"hi":0.017},{"m":"uni","t":"2023-01-07","v":-0.018,"lo":-0.030,"hi":-0.006},
      {"m":"uni","t":"2023-01-11","v":-0.037,"lo":-0.052,"hi":-0.022},{"m":"uni","t":"2023-01-15","v":-0.022,"lo":-0.034,"hi":-0.010},
      {"m":"uni","t":"2023-01-21","v":0.017,"lo":0.005,"hi":0.029},{"m":"uni","t":"2023-01-25","v":0.036,"lo":0.024,"hi":0.048},
      {"m":"uni","t":"2023-01-29","v":0.021,"lo":0.009,"hi":0.033},{"m":"uni","t":"2023-02-02","v":0.002,"lo":-0.010,"hi":0.014},
      {"m":"uni","t":"2023-02-06","v":0.005,"lo":-0.007,"hi":0.017},{"m":"uni","t":"2023-02-12","v":0.009,"lo":-0.003,"hi":0.021},
      {"m":"uni","t":"2023-02-16","v":0.017,"lo":0.005,"hi":0.029},{"m":"uni","t":"2023-02-22","v":0.002,"lo":-0.010,"hi":0.014},
      {"m":"uni","t":"2023-02-27","v":-0.018,"lo":-0.030,"hi":-0.006},{"m":"uni","t":"2023-03-05","v":-0.029,"lo":-0.041,"hi":-0.017},
      {"m":"uni","t":"2023-03-09","v":-0.023,"lo":-0.035,"hi":-0.011},{"m":"uni","t":"2023-03-13","v":-0.006,"lo":-0.018,"hi":0.006},
      {"m":"uni","t":"2023-03-19","v":0.005,"lo":-0.007,"hi":0.017},{"m":"uni","t":"2023-03-23","v":0.009,"lo":-0.003,"hi":0.021},
      {"m":"uni","t":"2023-03-27","v":-0.002,"lo":-0.014,"hi":0.010},{"m":"uni","t":"2023-04-03","v":-0.026,"lo":-0.038,"hi":-0.014},
      {"m":"uni","t":"2023-04-09","v":0.005,"lo":-0.007,"hi":0.017},{"m":"uni","t":"2023-04-14","v":0.021,"lo":0.009,"hi":0.033},
      {"m":"uni","t":"2023-04-19","v":0.023,"lo":0.011,"hi":0.035},{"m":"uni","t":"2023-04-23","v":0.009,"lo":-0.003,"hi":0.021},
      {"m":"uni","t":"2023-04-28","v":-0.014,"lo":-0.026,"hi":-0.002},{"m":"uni","t":"2023-05-03","v":-0.002,"lo":-0.014,"hi":0.010},
      {"m":"uni","t":"2023-05-07","v":0.009,"lo":-0.003,"hi":0.021},{"m":"uni","t":"2023-05-11","v":0.002,"lo":-0.010,"hi":0.014},
      {"m":"uni","t":"2023-05-15","v":-0.022,"lo":-0.034,"hi":-0.010},{"m":"uni","t":"2023-05-19","v":-0.045,"lo":-0.060,"hi":-0.030},
      {"m":"uni","t":"2023-05-23","v":-0.037,"lo":-0.052,"hi":-0.022},

      {"m":"gam","t":"2022-01-22","v":-0.009,"lo":-0.049,"hi":0.031},{"m":"gam","t":"2022-01-26","v":-0.021,"lo":-0.071,"hi":0.029},
      {"m":"gam","t":"2022-01-30","v":-0.067,"lo":-0.127,"hi":-0.007},{"m":"gam","t":"2022-02-02","v":-0.075,"lo":-0.135,"hi":-0.015},
      {"m":"gam","t":"2022-02-05","v":-0.036,"lo":-0.096,"hi":0.024},{"m":"gam","t":"2022-02-09","v":0.002,"lo":-0.058,"hi":0.062},
      {"m":"gam","t":"2022-02-12","v":-0.013,"lo":-0.063,"hi":0.037},{"m":"gam","t":"2022-02-16","v":-0.040,"lo":-0.090,"hi":0.010},
      {"m":"gam","t":"2022-02-20","v":-0.052,"lo":-0.102,"hi":-0.002},{"m":"gam","t":"2022-02-24","v":-0.063,"lo":-0.108,"hi":-0.018},
      {"m":"gam","t":"2022-02-27","v":-0.044,"lo":-0.089,"hi":0.001},{"m":"gam","t":"2022-03-04","v":-0.021,"lo":-0.066,"hi":0.024},
      {"m":"gam","t":"2022-03-08","v":-0.040,"lo":-0.085,"hi":0.005},{"m":"gam","t":"2022-03-11","v":-0.052,"lo":-0.097,"hi":-0.007},
      {"m":"gam","t":"2022-03-15","v":-0.036,"lo":-0.081,"hi":0.009},{"m":"gam","t":"2022-03-19","v":-0.025,"lo":-0.070,"hi":0.020},
      {"m":"gam","t":"2022-03-23","v":-0.040,"lo":-0.085,"hi":0.005},{"m":"gam","t":"2022-03-27","v":-0.044,"lo":-0.084,"hi":-0.004},
      {"m":"gam","t":"2022-03-31","v":-0.017,"lo":-0.057,"hi":0.023},{"m":"gam","t":"2022-04-05","v":-0.002,"lo":-0.047,"hi":0.043},
      {"m":"gam","t":"2022-04-08","v":0.033,"lo":-0.017,"hi":0.083},{"m":"gam","t":"2022-04-12","v":0.045,"lo":-0.005,"hi":0.095},
      {"m":"gam","t":"2022-04-16","v":0.056,"lo":0.006,"hi":0.106},{"m":"gam","t":"2022-04-20","v":0.060,"lo":0.010,"hi":0.110},
      {"m":"gam","t":"2022-04-24","v":0.041,"lo":-0.004,"hi":0.086},{"m":"gam","t":"2022-04-28","v":0.026,"lo":-0.019,"hi":0.071},
      {"m":"gam","t":"2022-05-03","v":0.018,"lo":-0.027,"hi":0.063},{"m":"gam","t":"2022-05-07","v":0.033,"lo":-0.012,"hi":0.078},
      {"m":"gam","t":"2022-05-11","v":0.041,"lo":-0.004,"hi":0.086},{"m":"gam","t":"2022-05-15","v":0.029,"lo":-0.006,"hi":0.064},
      {"m":"gam","t":"2022-05-21","v":0.022,"lo":-0.013,"hi":0.057},{"m":"gam","t":"2022-05-26","v":0.022,"lo":-0.013,"hi":0.057},
      {"m":"gam","t":"2022-06-01","v":0.010,"lo":-0.025,"hi":0.045},{"m":"gam","t":"2022-06-07","v":0.002,"lo":-0.033,"hi":0.037},
      {"m":"gam","t":"2022-06-11","v":-0.017,"lo":-0.052,"hi":0.018},{"m":"gam","t":"2022-06-14","v":-0.036,"lo":-0.081,"hi":0.009},
      {"m":"gam","t":"2022-06-18","v":-0.025,"lo":-0.060,"hi":0.010},{"m":"gam","t":"2022-06-22","v":0.002,"lo":-0.033,"hi":0.037},
      {"m":"gam","t":"2022-06-28","v":0.006,"lo":-0.029,"hi":0.041},{"m":"gam","t":"2022-07-03","v":0.006,"lo":-0.029,"hi":0.041},
      {"m":"gam","t":"2022-07-09","v":0.010,"lo":-0.025,"hi":0.045},{"m":"gam","t":"2022-07-13","v":0.022,"lo":-0.023,"hi":0.067},
      {"m":"gam","t":"2022-07-17","v":0.010,"lo":-0.025,"hi":0.045},{"m":"gam","t":"2022-07-23","v":-0.005,"lo":-0.040,"hi":0.030},
      {"m":"gam","t":"2022-07-27","v":-0.013,"lo":-0.048,"hi":0.022},{"m":"gam","t":"2022-07-30","v":-0.002,"lo":-0.037,"hi":0.033},
      {"m":"gam","t":"2022-08-04","v":0.002,"lo":-0.033,"hi":0.037},{"m":"gam","t":"2022-08-10","v":0.006,"lo":-0.029,"hi":0.041},
      {"m":"gam","t":"2022-08-17","v":0.018,"lo":-0.017,"hi":0.053},{"m":"gam","t":"2022-08-21","v":-0.002,"lo":-0.037,"hi":0.033},
      {"m":"gam","t":"2022-08-27","v":-0.013,"lo":-0.048,"hi":0.022},{"m":"gam","t":"2022-09-01","v":-0.015,"lo":-0.050,"hi":0.020},
      {"m":"gam","t":"2022-09-07","v":0.002,"lo":-0.033,"hi":0.037},{"m":"gam","t":"2022-09-12","v":0.029,"lo":-0.016,"hi":0.074},
      {"m":"gam","t":"2022-09-17","v":0.006,"lo":-0.029,"hi":0.041},{"m":"gam","t":"2022-09-21","v":0.010,"lo":-0.035,"hi":0.055},
      {"m":"gam","t":"2022-09-25","v":0.045,"lo":0.000,"hi":0.090},{"m":"gam","t":"2022-09-28","v":0.049,"lo":0.004,"hi":0.094},
      {"m":"gam","t":"2022-10-01","v":0.010,"lo":-0.035,"hi":0.055},{"m":"gam","t":"2022-10-04","v":-0.032,"lo":-0.082,"hi":0.018},
      {"m":"gam","t":"2022-10-09","v":-0.013,"lo":-0.058,"hi":0.032},{"m":"gam","t":"2022-10-13","v":0.002,"lo":-0.038,"hi":0.042},
      {"m":"gam","t":"2022-10-19","v":-0.032,"lo":-0.072,"hi":0.008},{"m":"gam","t":"2022-10-24","v":-0.021,"lo":-0.056,"hi":0.014},
      {"m":"gam","t":"2022-10-30","v":-0.002,"lo":-0.037,"hi":0.033},{"m":"gam","t":"2022-11-03","v":0.026,"lo":-0.019,"hi":0.071},
      {"m":"gam","t":"2022-11-07","v":0.001,"lo":-0.034,"hi":0.036},{"m":"gam","t":"2022-11-13","v":-0.017,"lo":-0.052,"hi":0.018},
      {"m":"gam","t":"2022-11-19","v":-0.005,"lo":-0.040,"hi":0.030},{"m":"gam","t":"2022-11-24","v":0.004,"lo":-0.031,"hi":0.039},
      {"m":"gam","t":"2022-11-30","v":0.006,"lo":-0.029,"hi":0.041},{"m":"gam","t":"2022-12-05","v":0.022,"lo":-0.013,"hi":0.057},
      {"m":"gam","t":"2022-12-11","v":0.037,"lo":-0.008,"hi":0.082},{"m":"gam","t":"2022-12-15","v":0.029,"lo":-0.006,"hi":0.064},
      {"m":"gam","t":"2022-12-19","v":0.018,"lo":-0.017,"hi":0.053},{"m":"gam","t":"2022-12-25","v":0.029,"lo":-0.006,"hi":0.064},
      {"m":"gam","t":"2022-12-31","v":0.033,"lo":-0.002,"hi":0.068},{"m":"gam","t":"2023-01-04","v":0.006,"lo":-0.029,"hi":0.041},
      {"m":"gam","t":"2023-01-06","v":-0.032,"lo":-0.077,"hi":0.013},{"m":"gam","t":"2023-01-11","v":-0.025,"lo":-0.060,"hi":0.010},
      {"m":"gam","t":"2023-01-16","v":-0.009,"lo":-0.044,"hi":0.026},{"m":"gam","t":"2023-01-22","v":0.002,"lo":-0.033,"hi":0.037},
      {"m":"gam","t":"2023-01-28","v":0.010,"lo":-0.025,"hi":0.045},{"m":"gam","t":"2023-02-02","v":-0.002,"lo":-0.037,"hi":0.033},
      {"m":"gam","t":"2023-02-08","v":0.006,"lo":-0.029,"hi":0.041},{"m":"gam","t":"2023-02-13","v":0.014,"lo":-0.021,"hi":0.049},
      {"m":"gam","t":"2023-02-18","v":0.018,"lo":-0.017,"hi":0.053},{"m":"gam","t":"2023-02-22","v":0.002,"lo":-0.033,"hi":0.037},
      {"m":"gam","t":"2023-02-27","v":-0.013,"lo":-0.048,"hi":0.022},{"m":"gam","t":"2023-03-05","v":-0.025,"lo":-0.060,"hi":0.010},
      {"m":"gam","t":"2023-03-09","v":-0.025,"lo":-0.060,"hi":0.010},{"m":"gam","t":"2023-03-15","v":-0.017,"lo":-0.052,"hi":0.018},
      {"m":"gam","t":"2023-03-20","v":-0.002,"lo":-0.037,"hi":0.033},{"m":"gam","t":"2023-03-24","v":0.006,"lo":-0.029,"hi":0.041},
      {"m":"gam","t":"2023-03-29","v":-0.013,"lo":-0.048,"hi":0.022},{"m":"gam","t":"2023-04-02","v":-0.021,"lo":-0.056,"hi":0.014},
      {"m":"gam","t":"2023-04-07","v":-0.009,"lo":-0.044,"hi":0.026},{"m":"gam","t":"2023-04-13","v":0.006,"lo":-0.029,"hi":0.041},
      {"m":"gam","t":"2023-04-17","v":0.018,"lo":-0.017,"hi":0.053},{"m":"gam","t":"2023-04-23","v":0.006,"lo":-0.029,"hi":0.041},
      {"m":"gam","t":"2023-04-28","v":0.006,"lo":-0.029,"hi":0.041},{"m":"gam","t":"2023-05-04","v":0.018,"lo":-0.017,"hi":0.053},
      {"m":"gam","t":"2023-05-08","v":0.006,"lo":-0.029,"hi":0.041},{"m":"gam","t":"2023-05-14","v":-0.017,"lo":-0.052,"hi":0.018},
      {"m":"gam","t":"2023-05-18","v":-0.032,"lo":-0.067,"hi":0.003},{"m":"gam","t":"2023-05-23","v":-0.021,"lo":-0.056,"hi":0.014}
    ],
    "strips": [
      {"k":"a","s":"global GAM"},{"k":"lin","s":"rolling linear model"},{"k":"mul","s":"multivariate imputation"},
      {"k":"uni","s":"univariate imputation"},{"k":"gam","s":"rolling GAM"}
    ],
    "keys": [
      {"k":"global GAM","txt":["global GAM","(all observations)"]},
      {"k":"rolling model","txt":["rolling model","(antecedent observations)"]}
    ]
  },
  "bounds": "flush",
  "columns": 2,
  "spacing": {"row": 16, "column": 0},
  "concat": [
    {
      "width": 1040, "height": 244.8,
      "title": {"text": "(a) measured viral load and GAM-estimated smooth trend", "anchor": "start", "frame": "group", "fontSize": 29.3, "offset": -19},
      "layer": [
        {
          "data": {"name": "gam"},
          "mark": {"type": "area", "color": "#EE8A45", "opacity": 0.4, "clip": true},
          "encoding": {
            "x": {"field": "t", "type": "temporal",
              "scale": {"type": "utc", "domain": [{"year": 2021, "month": 1, "date": 1, "utc": true}, {"year": 2023, "month": 5, "date": 23, "hours": 14, "utc": true}]},
              "axis": {"title": null, "labelPadding": 7,
                "values": [{"year":2021,"month":1,"date":1,"utc":true},{"year":2021,"month":2,"date":15,"utc":true},{"year":2021,"month":4,"date":1,"utc":true},{"year":2021,"month":5,"date":16,"hours":12,"utc":true},{"year":2021,"month":7,"date":1,"utc":true},{"year":2021,"month":8,"date":16,"utc":true},{"year":2021,"month":10,"date":1,"utc":true},{"year":2021,"month":11,"date":16,"utc":true},{"year":2022,"month":1,"date":1,"utc":true},{"year":2022,"month":2,"date":15,"utc":true},{"year":2022,"month":4,"date":1,"utc":true},{"year":2022,"month":5,"date":16,"hours":12,"utc":true},{"year":2022,"month":7,"date":1,"utc":true},{"year":2022,"month":8,"date":16,"utc":true},{"year":2022,"month":10,"date":1,"utc":true},{"year":2022,"month":11,"date":16,"utc":true},{"year":2023,"month":1,"date":1,"utc":true},{"year":2023,"month":2,"date":15,"utc":true},{"year":2023,"month":4,"date":1,"utc":true},{"year":2023,"month":5,"date":16,"hours":12,"utc":true}],
                "labelExpr": "utcdate(datum.value) == 1 ? utcFormat(datum.value, \"%b '%y\") : ''",
                "gridWidth": {"condition": {"test": "utcdate(datum.value) == 1", "value": 1.6}, "value": 0.8},
                "gridOpacity": {"condition": {"test": "utcyear(datum.value) == 2021 && utcmonth(datum.value) == 0 && utcdate(datum.value) == 1", "value": 0}, "value": 1},
                "tickOpacity": {"condition": {"test": "utcdate(datum.value) == 1", "value": 1}, "value": 0}
              }
            },
            "y": {"field": "lo", "type": "quantitative",
              "scale": {"domain": [5.485, 8.577], "nice": false, "zero": false},
              "axis": {"title": "log₁₀ copies/person/day",
                "values": [5.5, 5.75, 6, 6.25, 6.5, 6.75, 7, 7.25, 7.5, 7.75, 8, 8.25, 8.5],
                "labelExpr": "abs(datum.value * 2 - round(datum.value * 2)) < 0.01 ? format(datum.value, '.1f') : ''",
                "gridWidth": {"condition": {"test": "abs(datum.value * 2 - round(datum.value * 2)) < 0.01", "value": 1.6}, "value": 0.8},
                "tickOpacity": {"condition": {"test": "abs(datum.value * 2 - round(datum.value * 2)) < 0.01", "value": 1}, "value": 0}
              }
            },
            "y2": {"field": "hi"}
          }
        },
        {
          "data": {"name": "gam"},
          "mark": {"type": "line", "color": "#EB7B2E", "strokeWidth": 7, "strokeJoin": "round", "clip": true},
          "encoding": {"x": {"field": "t", "type": "temporal"}, "y": {"field": "fit", "type": "quantitative"}}
        },
        {
          "data": {"name": "pts"},
          "mark": {"type": "circle", "size": 120, "fill": "#2E8B57", "fillOpacity": 0.6, "stroke": "#2E8B57", "strokeOpacity": 0.8, "strokeWidth": 1, "clip": true},
          "encoding": {"x": {"field": "t", "type": "temporal"}, "y": {"field": "v", "type": "quantitative"}}
        }
      ]
    },
    {
      "width": 41, "height": 244.8,
      "view": {"fill": "#D9D9D9", "stroke": "#333333", "strokeWidth": 1.4},
      "data": {"name": "strips"},
      "transform": [{"filter": "datum.k == 'a'"}],
      "mark": {"type": "text", "angle": 90, "fontSize": 23.5, "color": "#1A1A1A", "font": "Liberation Sans", "align": "center", "baseline": "middle", "clip": true},
      "encoding": {"text": {"field": "s"}}
    },
    {
      "width": 1040, "height": 77, "view": {"stroke": null},
      "data": {"values": [{}]}, "mark": {"type": "text"}, "encoding": {"text": {"value": ""}}
    },
    {
      "width": 41, "height": 77, "view": {"stroke": null},
      "data": {"values": [{}]}, "mark": {"type": "text"}, "encoding": {"text": {"value": ""}}
    },
    {
      "width": 1040, "height": 234.9,
      "title": {"text": "(b) estimated rate of change", "anchor": "start", "frame": "group", "fontSize": 29.3, "offset": 17},
      "layer": [
        {"data": {"values": [{"zero": 0}]}, "mark": {"type": "rule", "strokeDash": [10, 7], "color": "#666666", "strokeWidth": 2.2},
         "encoding": {"y": {"field": "zero", "type": "quantitative", "scale": {"domain": [-0.3, 0.247], "nice": false, "zero": false},
           "axis": {"title": null, "values": [-0.3, -0.2, -0.1, 0, 0.1, 0.2], "labelExpr": "(datum.value < -0.001 ? '-' : '') + format(abs(datum.value), '.1f')", "gridWidth": 1.6,
             "gridOpacity": {"condition": {"test": "datum.value < -0.29", "value": 0}, "value": 1}}}}},
        {"data": {"name": "deriv"}, "mark": {"type": "area", "color": "#EE8A45", "opacity": 0.4, "clip": true},
         "encoding": {
           "x": {"field": "t", "type": "temporal",
             "scale": {"type": "utc", "domain": [{"year": 2021, "month": 1, "date": 1, "utc": true}, {"year": 2023, "month": 5, "date": 23, "hours": 14, "utc": true}]},
             "axis": {"title": null, "labels": false, "ticks": false,
               "values": [{"year":2021,"month":1,"date":1,"utc":true},{"year":2021,"month":2,"date":15,"utc":true},{"year":2021,"month":4,"date":1,"utc":true},{"year":2021,"month":5,"date":16,"hours":12,"utc":true},{"year":2021,"month":7,"date":1,"utc":true},{"year":2021,"month":8,"date":16,"utc":true},{"year":2021,"month":10,"date":1,"utc":true},{"year":2021,"month":11,"date":16,"utc":true},{"year":2022,"month":1,"date":1,"utc":true},{"year":2022,"month":2,"date":15,"utc":true},{"year":2022,"month":4,"date":1,"utc":true},{"year":2022,"month":5,"date":16,"hours":12,"utc":true},{"year":2022,"month":7,"date":1,"utc":true},{"year":2022,"month":8,"date":16,"utc":true},{"year":2022,"month":10,"date":1,"utc":true},{"year":2022,"month":11,"date":16,"utc":true},{"year":2023,"month":1,"date":1,"utc":true},{"year":2023,"month":2,"date":15,"utc":true},{"year":2023,"month":4,"date":1,"utc":true},{"year":2023,"month":5,"date":16,"hours":12,"utc":true}],
               "gridWidth": {"condition": {"test": "utcdate(datum.value) == 1", "value": 1.6}, "value": 0.8},
               "gridOpacity": {"condition": {"test": "utcyear(datum.value) == 2021 && utcmonth(datum.value) == 0 && utcdate(datum.value) == 1", "value": 0}, "value": 1}}},
           "y": {"field": "lo", "type": "quantitative"}, "y2": {"field": "hi"}}},
        {"data": {"name": "deriv"}, "mark": {"type": "line", "color": "#EB7B2E", "strokeWidth": 7, "strokeJoin": "round", "clip": true},
         "encoding": {"x": {"field": "t", "type": "temporal"}, "y": {"field": "v", "type": "quantitative"}}},
        {"data": {"name": "roll"}, "transform": [{"filter": "datum.m == 'lin'"}], "mark": {"type": "area", "color": "#7B5FAE", "opacity": 0.35, "clip": true},
         "encoding": {"x": {"field": "t", "type": "temporal"}, "y": {"field": "lo", "type": "quantitative"}, "y2": {"field": "hi"}}},
        {"data": {"name": "roll"}, "transform": [{"filter": "datum.m == 'lin'"}], "mark": {"type": "line", "color": "#6A4C9C", "opacity": 0.85, "strokeWidth": 6, "strokeJoin": "round", "clip": true},
         "encoding": {"x": {"field": "t", "type": "temporal"}, "y": {"field": "v", "type": "quantitative"}}}
      ]
    },
    {
      "width": 41, "height": 234.9,
      "view": {"fill": "#D9D9D9", "stroke": "#333333", "strokeWidth": 1.4},
      "data": {"name": "strips"},
      "transform": [{"filter": "datum.k == 'lin'"}],
      "mark": {"type": "text", "angle": 90, "fontSize": 23.5, "color": "#1A1A1A", "font": "Liberation Sans", "align": "center", "baseline": "middle", "clip": true},
      "encoding": {"text": {"field": "s"}}
    },
    {
      "width": 1040, "height": 234.9,
      "layer": [
        {"data": {"values": [{"zero": 0}]}, "mark": {"type": "rule", "strokeDash": [10, 7], "color": "#666666", "strokeWidth": 2.2},
         "encoding": {"y": {"field": "zero", "type": "quantitative", "scale": {"domain": [-0.3, 0.247], "nice": false, "zero": false},
           "axis": {"title": "log₁₀ copies/person/day²", "titleY": 243, "values": [-0.3, -0.2, -0.1, 0, 0.1, 0.2], "labelExpr": "(datum.value < -0.001 ? '-' : '') + format(abs(datum.value), '.1f')", "gridWidth": 1.6,
             "gridOpacity": {"condition": {"test": "datum.value < -0.29", "value": 0}, "value": 1}}}}},
        {"data": {"name": "deriv"}, "mark": {"type": "area", "color": "#EE8A45", "opacity": 0.4, "clip": true},
         "encoding": {
           "x": {"field": "t", "type": "temporal",
             "scale": {"type": "utc", "domain": [{"year": 2021, "month": 1, "date": 1, "utc": true}, {"year": 2023, "month": 5, "date": 23, "hours": 14, "utc": true}]},
             "axis": {"title": null, "labels": false, "ticks": false,
               "values": [{"year":2021,"month":1,"date":1,"utc":true},{"year":2021,"month":2,"date":15,"utc":true},{"year":2021,"month":4,"date":1,"utc":true},{"year":2021,"month":5,"date":16,"hours":12,"utc":true},{"year":2021,"month":7,"date":1,"utc":true},{"year":2021,"month":8,"date":16,"utc":true},{"year":2021,"month":10,"date":1,"utc":true},{"year":2021,"month":11,"date":16,"utc":true},{"year":2022,"month":1,"date":1,"utc":true},{"year":2022,"month":2,"date":15,"utc":true},{"year":2022,"month":4,"date":1,"utc":true},{"year":2022,"month":5,"date":16,"hours":12,"utc":true},{"year":2022,"month":7,"date":1,"utc":true},{"year":2022,"month":8,"date":16,"utc":true},{"year":2022,"month":10,"date":1,"utc":true},{"year":2022,"month":11,"date":16,"utc":true},{"year":2023,"month":1,"date":1,"utc":true},{"year":2023,"month":2,"date":15,"utc":true},{"year":2023,"month":4,"date":1,"utc":true},{"year":2023,"month":5,"date":16,"hours":12,"utc":true}],
               "gridWidth": {"condition": {"test": "utcdate(datum.value) == 1", "value": 1.6}, "value": 0.8},
               "gridOpacity": {"condition": {"test": "utcyear(datum.value) == 2021 && utcmonth(datum.value) == 0 && utcdate(datum.value) == 1", "value": 0}, "value": 1}}},
           "y": {"field": "lo", "type": "quantitative"}, "y2": {"field": "hi"}}},
        {"data": {"name": "deriv"}, "mark": {"type": "line", "color": "#EB7B2E", "strokeWidth": 7, "strokeJoin": "round", "clip": true},
         "encoding": {"x": {"field": "t", "type": "temporal"}, "y": {"field": "v", "type": "quantitative"}}},
        {"data": {"name": "roll"}, "transform": [{"filter": "datum.m == 'mul'"}], "mark": {"type": "area", "color": "#7B5FAE", "opacity": 0.35, "clip": true},
         "encoding": {"x": {"field": "t", "type": "temporal"}, "y": {"field": "lo", "type": "quantitative"}, "y2": {"field": "hi"}}},
        {"data": {"name": "roll"}, "transform": [{"filter": "datum.m == 'mul'"}], "mark": {"type": "line", "color": "#6A4C9C", "opacity": 0.85, "strokeWidth": 6, "strokeJoin": "round", "clip": true},
         "encoding": {"x": {"field": "t", "type": "temporal"}, "y": {"field": "v", "type": "quantitative"}}}
      ]
    },
    {
      "width": 41, "height": 234.9,
      "view": {"fill": "#D9D9D9", "stroke": "#333333", "strokeWidth": 1.4},
      "data": {"name": "strips"},
      "transform": [{"filter": "datum.k == 'mul'"}],
      "mark": {"type": "text", "angle": 90, "fontSize": 23.5, "color": "#1A1A1A", "font": "Liberation Sans", "align": "center", "baseline": "middle", "clip": true},
      "encoding": {"text": {"field": "s"}}
    },
    {
      "width": 1040, "height": 234.9,
      "layer": [
        {"data": {"values": [{"zero": 0}]}, "mark": {"type": "rule", "strokeDash": [10, 7], "color": "#666666", "strokeWidth": 2.2},
         "encoding": {"y": {"field": "zero", "type": "quantitative", "scale": {"domain": [-0.3, 0.247], "nice": false, "zero": false},
           "axis": {"title": null, "values": [-0.3, -0.2, -0.1, 0, 0.1, 0.2], "labelExpr": "(datum.value < -0.001 ? '-' : '') + format(abs(datum.value), '.1f')", "gridWidth": 1.6,
             "gridOpacity": {"condition": {"test": "datum.value < -0.29", "value": 0}, "value": 1}}}}},
        {"data": {"name": "deriv"}, "mark": {"type": "area", "color": "#EE8A45", "opacity": 0.4, "clip": true},
         "encoding": {
           "x": {"field": "t", "type": "temporal",
             "scale": {"type": "utc", "domain": [{"year": 2021, "month": 1, "date": 1, "utc": true}, {"year": 2023, "month": 5, "date": 23, "hours": 14, "utc": true}]},
             "axis": {"title": null, "labels": false, "ticks": false,
               "values": [{"year":2021,"month":1,"date":1,"utc":true},{"year":2021,"month":2,"date":15,"utc":true},{"year":2021,"month":4,"date":1,"utc":true},{"year":2021,"month":5,"date":16,"hours":12,"utc":true},{"year":2021,"month":7,"date":1,"utc":true},{"year":2021,"month":8,"date":16,"utc":true},{"year":2021,"month":10,"date":1,"utc":true},{"year":2021,"month":11,"date":16,"utc":true},{"year":2022,"month":1,"date":1,"utc":true},{"year":2022,"month":2,"date":15,"utc":true},{"year":2022,"month":4,"date":1,"utc":true},{"year":2022,"month":5,"date":16,"hours":12,"utc":true},{"year":2022,"month":7,"date":1,"utc":true},{"year":2022,"month":8,"date":16,"utc":true},{"year":2022,"month":10,"date":1,"utc":true},{"year":2022,"month":11,"date":16,"utc":true},{"year":2023,"month":1,"date":1,"utc":true},{"year":2023,"month":2,"date":15,"utc":true},{"year":2023,"month":4,"date":1,"utc":true},{"year":2023,"month":5,"date":16,"hours":12,"utc":true}],
               "gridWidth": {"condition": {"test": "utcdate(datum.value) == 1", "value": 1.6}, "value": 0.8},
               "gridOpacity": {"condition": {"test": "utcyear(datum.value) == 2021 && utcmonth(datum.value) == 0 && utcdate(datum.value) == 1", "value": 0}, "value": 1}}},
           "y": {"field": "lo", "type": "quantitative"}, "y2": {"field": "hi"}}},
        {"data": {"name": "deriv"}, "mark": {"type": "line", "color": "#EB7B2E", "strokeWidth": 7, "strokeJoin": "round", "clip": true},
         "encoding": {"x": {"field": "t", "type": "temporal"}, "y": {"field": "v", "type": "quantitative"}}},
        {"data": {"name": "roll"}, "transform": [{"filter": "datum.m == 'uni'"}], "mark": {"type": "area", "color": "#7B5FAE", "opacity": 0.35, "clip": true},
         "encoding": {"x": {"field": "t", "type": "temporal"}, "y": {"field": "lo", "type": "quantitative"}, "y2": {"field": "hi"}}},
        {"data": {"name": "roll"}, "transform": [{"filter": "datum.m == 'uni'"}], "mark": {"type": "line", "color": "#6A4C9C", "opacity": 0.85, "strokeWidth": 6, "strokeJoin": "round", "clip": true},
         "encoding": {"x": {"field": "t", "type": "temporal"}, "y": {"field": "v", "type": "quantitative"}}}
      ]
    },
    {
      "width": 41, "height": 234.9,
      "view": {"fill": "#D9D9D9", "stroke": "#333333", "strokeWidth": 1.4},
      "data": {"name": "strips"},
      "transform": [{"filter": "datum.k == 'uni'"}],
      "mark": {"type": "text", "angle": 90, "fontSize": 23.5, "color": "#1A1A1A", "font": "Liberation Sans", "align": "center", "baseline": "middle", "clip": true},
      "encoding": {"text": {"field": "s"}}
    },
    {
      "width": 1040, "height": 234.9,
      "layer": [
        {"data": {"values": [{"zero": 0}]}, "mark": {"type": "rule", "strokeDash": [10, 7], "color": "#666666", "strokeWidth": 2.2},
         "encoding": {"y": {"field": "zero", "type": "quantitative", "scale": {"domain": [-0.3, 0.247], "nice": false, "zero": false},
           "axis": {"title": null, "values": [-0.3, -0.2, -0.1, 0, 0.1, 0.2], "labelExpr": "(datum.value < -0.001 ? '-' : '') + format(abs(datum.value), '.1f')", "gridWidth": 1.6,
             "gridOpacity": {"condition": {"test": "datum.value < -0.29", "value": 0}, "value": 1}}}}},
        {"data": {"name": "deriv"}, "mark": {"type": "area", "color": "#EE8A45", "opacity": 0.4, "clip": true},
         "encoding": {
           "x": {"field": "t", "type": "temporal",
             "scale": {"type": "utc", "domain": [{"year": 2021, "month": 1, "date": 1, "utc": true}, {"year": 2023, "month": 5, "date": 23, "hours": 14, "utc": true}]},
             "axis": {"title": null,
               "values": [{"year":2021,"month":1,"date":1,"utc":true},{"year":2021,"month":2,"date":15,"utc":true},{"year":2021,"month":4,"date":1,"utc":true},{"year":2021,"month":5,"date":16,"hours":12,"utc":true},{"year":2021,"month":7,"date":1,"utc":true},{"year":2021,"month":8,"date":16,"utc":true},{"year":2021,"month":10,"date":1,"utc":true},{"year":2021,"month":11,"date":16,"utc":true},{"year":2022,"month":1,"date":1,"utc":true},{"year":2022,"month":2,"date":15,"utc":true},{"year":2022,"month":4,"date":1,"utc":true},{"year":2022,"month":5,"date":16,"hours":12,"utc":true},{"year":2022,"month":7,"date":1,"utc":true},{"year":2022,"month":8,"date":16,"utc":true},{"year":2022,"month":10,"date":1,"utc":true},{"year":2022,"month":11,"date":16,"utc":true},{"year":2023,"month":1,"date":1,"utc":true},{"year":2023,"month":2,"date":15,"utc":true},{"year":2023,"month":4,"date":1,"utc":true},{"year":2023,"month":5,"date":16,"hours":12,"utc":true}],
               "labelExpr": "utcdate(datum.value) == 1 ? utcFormat(datum.value, \"%b '%y\") : ''",
               "gridWidth": {"condition": {"test": "utcdate(datum.value) == 1", "value": 1.6}, "value": 0.8},
               "gridOpacity": {"condition": {"test": "utcyear(datum.value) == 2021 && utcmonth(datum.value) == 0 && utcdate(datum.value) == 1", "value": 0}, "value": 1},
               "tickOpacity": {"condition": {"test": "utcdate(datum.value) == 1", "value": 1}, "value": 0}}},
           "y": {"field": "lo", "type": "quantitative"}, "y2": {"field": "hi"}}},
        {"data": {"name": "deriv"}, "mark": {"type": "line", "color": "#EB7B2E", "strokeWidth": 7, "strokeJoin": "round", "clip": true},
         "encoding": {"x": {"field": "t", "type": "temporal"}, "y": {"field": "v", "type": "quantitative"}}},
        {"data": {"name": "roll"}, "transform": [{"filter": "datum.m == 'gam'"}], "mark": {"type": "area", "color": "#7B5FAE", "opacity": 0.35, "clip": true},
         "encoding": {"x": {"field": "t", "type": "temporal"}, "y": {"field": "lo", "type": "quantitative"}, "y2": {"field": "hi"}}},
        {"data": {"name": "roll"}, "transform": [{"filter": "datum.m == 'gam'"}], "mark": {"type": "line", "color": "#6A4C9C", "opacity": 0.85, "strokeWidth": 6, "strokeJoin": "round", "clip": true},
         "encoding": {"x": {"field": "t", "type": "temporal"}, "y": {"field": "v", "type": "quantitative"}}}
      ]
    },
    {
      "width": 41, "height": 234.9,
      "view": {"fill": "#D9D9D9", "stroke": "#333333", "strokeWidth": 1.4},
      "data": {"name": "strips"},
      "transform": [{"filter": "datum.k == 'gam'"}],
      "mark": {"type": "text", "angle": 90, "fontSize": 23.5, "color": "#1A1A1A", "font": "Liberation Sans", "align": "center", "baseline": "middle", "clip": true},
      "encoding": {"text": {"field": "s"}}
    },
    {
      "width": 1040, "height": 50, "view": {"stroke": null},
      "data": {"values": [{}]}, "mark": {"type": "text"}, "encoding": {"text": {"value": ""}}
    },
    {
      "width": 41, "height": 50, "view": {"stroke": null},
      "data": {"values": [{}]}, "mark": {"type": "text"}, "encoding": {"text": {"value": ""}}
    },
    {
      "width": 419, "height": 43,
      "view": {"stroke": null},
      "data": {"name": "keys"},
      "encoding": {"x": {"field": "k", "type": "nominal", "scale": {"type": "point", "padding": 0.236}, "axis": null}},
      "layer": [
        {"mark": {"type": "point", "shape": "M-1,-0.59H1V0.59H-1Z", "size": 5329, "filled": true, "opacity": 1, "strokeWidth": 0},
         "encoding": {"fill": {"field": "k", "type": "nominal", "scale": {"domain": ["global GAM", "rolling model"], "range": ["#F8D0B3", "#D2C8E4"]}, "legend": null}}},
        {"mark": {"type": "point", "shape": "M-0.83,0H0.83", "size": 5329, "filled": false, "opacity": 1, "strokeWidth": 7},
         "encoding": {"stroke": {"field": "k", "type": "nominal", "scale": {"domain": ["global GAM", "rolling model"], "range": ["#EF8540", "#7E62AE"]}, "legend": null}}},
        {"mark": {"type": "text", "align": "left", "baseline": "middle", "dx": 53, "dy": -11, "fontSize": 23.5, "lineHeight": 24, "color": "#000000", "font": "Liberation Sans"},
         "encoding": {"text": {"field": "txt"}}}
      ]
    }
  ]
}
